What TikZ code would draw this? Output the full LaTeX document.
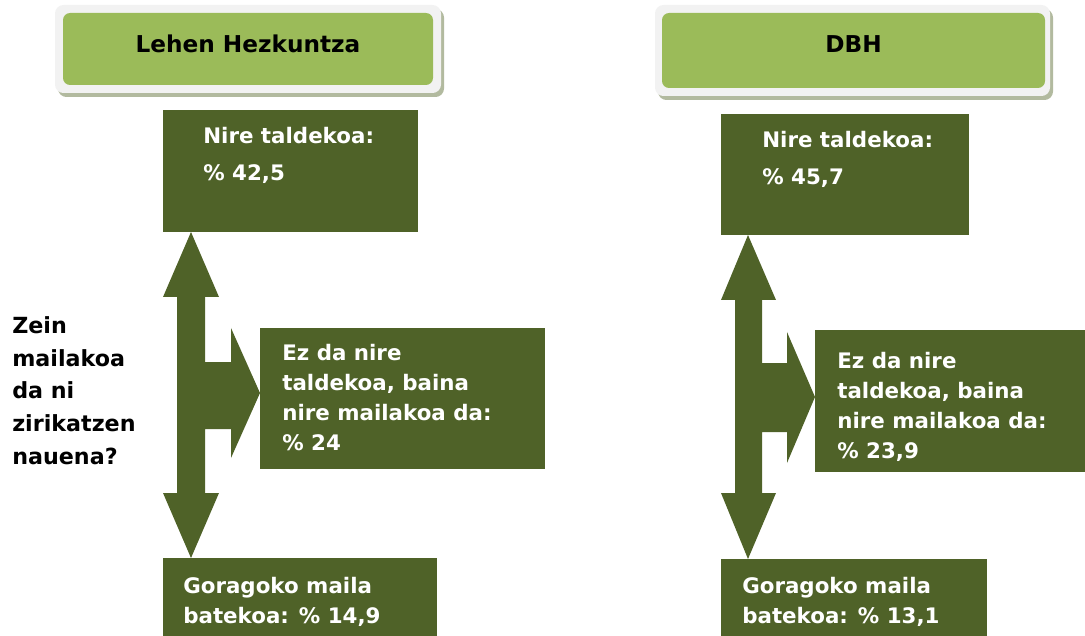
\documentclass[tikz,border=0pt]{standalone}
\usepackage{fontspec}
\setmainfont{DejaVu Sans}
\usetikzlibrary{fit}

\definecolor{darkolive}{HTML}{4F6228}
\definecolor{lightolive}{HTML}{9BBB59}
\definecolor{headgray}{HTML}{F2F2F2}
\definecolor{headshadow}{HTML}{B2BA9F}

\begin{document}
\begin{tikzpicture}[x = 0.025cm , y = -0.025cm ,
    box/.style = {fill = darkolive , inner sep = 0pt},
    headbox/.style = {fill = lightolive , rounded corners = 5pt , inner sep = 0pt},
    headtext/.style = {inner sep = 0pt , font = \fontsize{16.5}{22}\selectfont\bfseries},
    boxtext/.style = {text = white , align = left , anchor = north west , inner sep = 0pt ,
        font = \fontsize{15.2}{21.3}\selectfont\bfseries},
    question/.style = {align = left , anchor = north west , inner sep = 0pt ,
        font = \fontsize{15.8}{23.4}\selectfont\bfseries}]
    \useasboundingbox (0,0) rectangle (1085,636);

    % Goiburuak
    \fill[headshadow , rounded corners = 6pt] (58,9) rectangle (444,97);
    \fill[headgray , rounded corners = 6pt] (55,5) rectangle (441,93);
    \node[headbox , fit = {(63,13) (433,85)}] (lh) {};
    \node[headtext] (lht) at ([yshift = 4pt]lh.center) {Lehen Hezkuntza};
    \fill[headshadow , rounded corners = 6pt] (658,9) rectangle (1053,100);
    \fill[headgray , rounded corners = 6pt] (655,5) rectangle (1050,96);
    \node[headbox , fit = {(662,13) (1045,88)}] (dbh) {};
    \node[headtext] (dbht) at ([yshift = 4.5pt]dbh.center) {DBH};

    % Galdera
    \node[question] (galdera) at (12,316) {Zein\\ mailakoa\\ da ni\\ zirikatzen\\ nauena?};

    % Lehen Hezkuntza
    \node[box , fit = {(163,110) (418,232)}] (lh1) {};
    \node[box , fit = {(260,328) (545,469)}] (lh2) {};
    \node[box , fit = {(163,558) (437,636)}] (lh3) {};
    \node[boxtext] (lh1t) at (203,127) {Nire taldekoa:\\[5pt] \% 42,5};
    \node[boxtext] (lh2t) at (282,344) {Ez da nire\\ taldekoa, baina\\ nire mailakoa da:\\ \% 24};
    \node[boxtext] (lh3t) at (183,577) {Goragoko maila\\ batekoa: \% 14,9};
    \fill[darkolive] (191,232) -- (219,297) -- (205,297) -- (205,362) -- (231,362) -- (231,328)
        -- (260,393) -- (231,458) -- (231,429) -- (205,429) -- (205,493) -- (219,493)
        -- (191,558) -- (163,493) -- (177,493) -- (177,297) -- (163,297) -- cycle; % Gezia

    % DBH
    \node[box , fit = {(721,114) (969,235)}] (dbh1) {};
    \node[box , fit = {(815,330) (1085,472)}] (dbh2) {};
    \node[box , fit = {(721,559) (987,636)}] (dbh3) {};
    \node[boxtext] (dbh1t) at (762,131) {Nire taldekoa:\\[5pt] \% 45,7};
    \node[boxtext] (dbh2t) at (837,352) {Ez da nire\\ taldekoa, baina\\ nire mailakoa da:\\ \% 23,9};
    \node[boxtext] (dbh3t) at (742,577) {Goragoko maila\\ batekoa: \% 13,1};
    \fill[darkolive] (748,235) -- (776,300) -- (762,300) -- (762,363) -- (787,363) -- (787,332)
        -- (815,397) -- (787,463) -- (787,432) -- (762,432) -- (762,493) -- (776,493)
        -- (748,559) -- (721,493) -- (735,493) -- (735,300) -- (721,300) -- cycle; % Gezia
\end{tikzpicture}
\end{document}
